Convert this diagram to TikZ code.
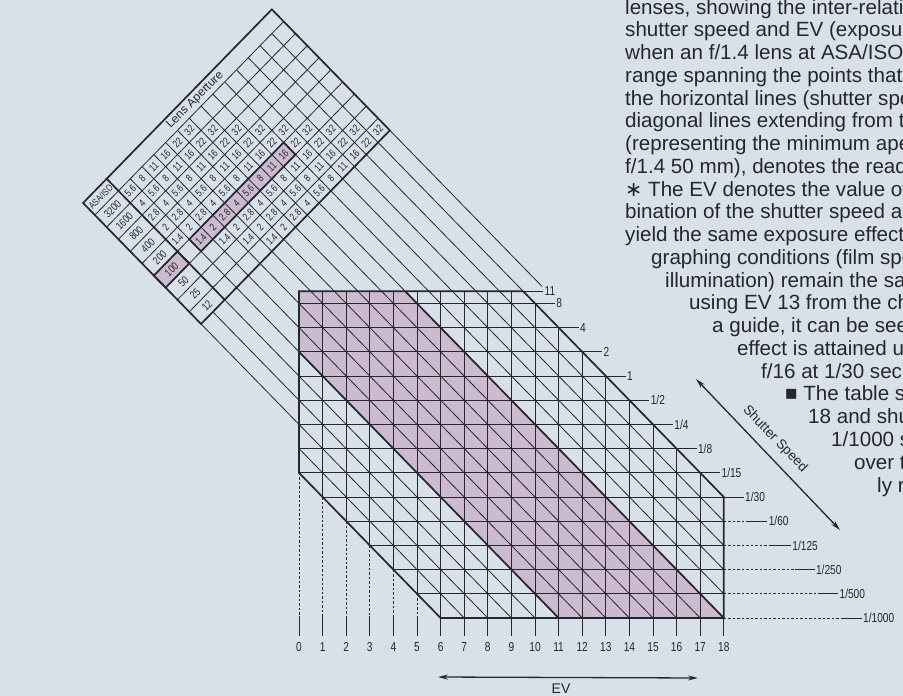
\documentclass[tikz,border=0pt]{standalone}
\usepackage{fontspec}
\setmainfont{Liberation Sans}
\newfontfamily\condfont[FakeStretch=0.78]{Liberation Sans}
\newfontfamily\dejavu{DejaVu Sans}
\usetikzlibrary{arrows.meta}
\definecolor{bg}{RGB}{216,225,234}
\definecolor{ink}{RGB}{38,38,44}
\definecolor{pinkfill}{RGB}{204,186,209}
\begin{document}
\begin{tikzpicture}[x=1pt,y=-1pt,
  gl/.style={draw=ink,line width=0.8pt},
  gthick/.style={draw=ink,line width=1.7pt},
  dashext/.style={draw=ink,line width=0.7pt,dash pattern=on 2.5pt off 2pt},
  para/.style={anchor=base west,inner sep=0pt,font=\fontsize{20.6}{22}\selectfont,text=ink},
  lab/.style={inner sep=0pt,font=\condfont\fontsize{13}{13}\selectfont,text=ink},
  cellt/.style={inner sep=0pt,font=\condfont\fontsize{10.5}{10.5}\selectfont,text=ink,rotate=45},
  asat/.style={inner sep=0pt,font=\condfont\fontsize{11}{11}\selectfont,text=ink,rotate=45},
  dblarrow/.style={draw=ink,line width=1.3pt,{Stealth[length=10pt,width=5pt]}-{Stealth[length=10pt,width=5pt]}},
]
\useasboundingbox (0,0) rectangle (903,696);
\fill[bg] (0,0) rectangle (903,696);
\clip (0,0) rectangle (903,696);

% ---------------- main EV grid ----------------
\begin{scope}[shift={(299,376)},x={(23.6pt,0pt)},y={(0pt,-24.2pt)}]
  \fill[pinkfill] (0,-3.5) -- (4.5,-3.5) -- (18,10) -- (11,10) -- (0,-1) -- cycle;
  \foreach \r in {-3,...,9}{
    \pgfmathsetmacro\L{max(0,\r-4)}
    \pgfmathsetmacro\R{min(\r+13,18)}
    \draw[gl] (\L,\r) -- (\R,\r);
  }
  \foreach \e in {1,...,17}{
    \pgfmathsetmacro\T{max(-3.5,\e-13)}
    \pgfmathsetmacro\B{min(10,\e+4)}
    \draw[gl] (\e,\T) -- (\e,\B);
  }
  \foreach \c in {-3,...,12}{
    \pgfmathsetmacro\ra{max(-1*(\c),-3.5)}
    \pgfmathsetmacro\ea{\ra+\c}
    \pgfmathsetmacro\rb{min(10,18-\c)}
    \pgfmathsetmacro\eb{\rb+\c}
    \draw[gl] (\ea,\ra) -- (\eb,\rb);
  }
  % EV extensions and labels
  \foreach \e in {6,...,18} \draw[gl] (\e,10) -- (\e,10.75);
  \foreach \e in {0,...,5}{
    \draw[dashext] (\e,\e+4) -- (\e,9.9);
    \draw[gl] (\e,9.9) -- (\e,10.75);
  }
  \foreach \e in {0,...,18} \node[lab] (ev\e) at (\e,11.2) {\e};
  % shutter speed extensions and labels
  \foreach \r/\t [count=\i] in {-3.5/11,-3/8,-2/4,-1/2,0/1,1/{1/2},2/{1/4},3/{1/8},4/{1/15},5/{1/30}}{
    \draw[gl] (\r+13,\r) -- (\r+13.85,\r);
    \node[lab,anchor=west] (ss\i) at (\r+13.9,\r) {\t};
  }
  \foreach \r/\t [count=\i from 11] in {6/{1/60},7/{1/125},8/{1/250},9/{1/500},10/{1/1000}}{
    \draw[dashext] (18,\r) -- (\r+13,\r);
    \draw[gl] (\r+13,\r) -- (\r+13.85,\r);
    \node[lab,anchor=west] (ss\i) at (\r+13.9,\r) {\t};
  }
  % outline and pink boundaries
  \draw[gthick,line join=miter] (0,-3.5) -- (9.5,-3.5) -- (18,5) -- (18,10) -- (6,10) -- (0,4) -- cycle;
  \draw[gthick] (0,-1) -- (11,10);
  \draw[gthick] (4.5,-3.5) -- (18,10);
\end{scope}

% ---------------- rotated aperture table ----------------
\def\qT{-16.3}
\def\qB{-6.3}
\begin{scope}[shift={(299,376)},x={(11.8pt,12.1pt)},y={(11.8pt,-12.1pt)}]
  % pink highlight row (ASA 100)
  \fill[pinkfill] (1,\qT+6) -- (9,\qT+6) -- (9,\qT+7) -- (1,\qT+7) -- cycle;
  \fill[pinkfill] (-2,\qT+6) -- (0,\qT+6) -- (0,\qT+7) -- (-2,\qT+7) -- cycle;
  % long aperture lines to the grid
  \foreach \c in {-2,...,13}{
    \pgfmathsetmacro\qe{max(-1*(\c),\c-7)}
    \draw[gl] (\c,\qB) -- (\c,\qe);
  }
  \draw[gl] (14,\qB) -- (14,6.6);
  % table cell lines
  \foreach \j in {1,...,9} \draw[gl] (-2,\qT+\j) -- (14,\qT+\j);
  \foreach \c in {1,...,13} \draw[gl] (\c,\qT+1) -- (\c,\qB);
  % values
  \foreach \j in {0,...,8}{
    \foreach \v [count=\k from 0] in {1.4,2,2.8,4,5.6,8,11,16,22,32}{
      \pgfmathsetmacro\cc{\k+\j-3.5}
      \ifdim \cc pt>0pt \ifdim \cc pt<14pt
        \node[cellt] at (\cc,\qT+1.5+\j) {\v};
      \fi\fi
    }
  }
  \foreach \a [count=\j from 0] in {3200,1600,800,400,200,100,50,25,12}
    \node[asat] (asa\j) at (-1,\qT+1.5+\j) {\a};
  \node[asat,font=\condfont\fontsize{9.5}{9.5}\selectfont] (asahead) at (-1,\qT+0.5) {ASA/ISO};
  \node[inner sep=0pt,rotate=45,text=ink,font=\fontsize{12}{12}\selectfont] (lenshead) at (7,\qT+0.5) {Lens Aperture};
  % thick borders
  \draw[gthick,line join=miter] (-2,\qT) -- (14,\qT) -- (14,\qB) -- (-2,\qB) -- cycle;
  \draw[gthick] (0,\qT) -- (0,\qB);
  \draw[gthick,line join=miter] (1,\qT+6) -- (9,\qT+6) -- (9,\qT+7) -- (1,\qT+7) -- cycle;
  \draw[gthick,line join=miter] (-2,\qT+6) -- (0,\qT+6) -- (0,\qT+7) -- (-2,\qT+7) -- cycle;
\end{scope}

% ---------------- arrows ----------------
\coordinate (sa) at (696,379);
\coordinate (sb) at (840,530);
\draw[dblarrow] (sa) -- (sb);
\node[inner sep=0pt,rotate=-46,font=\fontsize{13.5}{14}\selectfont,text=ink] (sslabel) at (775,439) {Shutter Speed};
\coordinate (ea) at (438,677);
\coordinate (eb) at (698,678);
\draw[dblarrow] (ea) -- (eb);
\node[inner sep=0pt,font=\fontsize{14}{14}\selectfont,text=ink] (evlabel) at (561,689) {EV};

% ---------------- side text ----------------
\node[para] (t1)  at (625,14)    {lenses, showing the inter-relation};
\node[para] (t2)  at (625,36.8)  {shutter speed and EV (exposure};
\node[para] (t3)  at (625,59.5)  {when an f/1.4 lens at ASA/ISO 100};
\node[para] (t4)  at (625,82.3)  {range spanning the points that};
\node[para] (t5)  at (625,105)   {the horizontal lines (shutter speed};
\node[para] (t6)  at (625,127.8) {diagonal lines extending from the};
\node[para] (t7)  at (625,150.6) {(representing the minimum aperture};
\node[para] (t8)  at (625,173.3) {f/1.4 50 mm), denotes the reading};
\node[para] (t9)  at (625,196.1) {{\dejavu ∗} The EV denotes the value of};
\node[para] (t10) at (625,218.8) {bination of the shutter speed and};
\node[para] (t11) at (625,241.6) {yield the same exposure effect};
\node[para] (t12) at (651,264.4) {graphing conditions (film speed};
\node[para] (t13) at (665,287.1) {illumination) remain the same};
\node[para] (t14) at (689,309.9) {using EV 13 from the chart};
\node[para] (t15) at (712,332.6) {a guide, it can be seen};
\node[para] (t16) at (737,355.4) {effect is attained using};
\node[para] (t17) at (761,378.2) {f/16 at 1/30 sec};
\node[para] (t18) at (785,400.9) {■ The table shows};
\node[para] (t19) at (808,423.7) {18 and shutter};
\node[para] (t20) at (831,446.4) {1/1000 sec};
\node[para] (t21) at (854,469.2) {over the};
\node[para] (t22) at (877,492)   {ly read};
\end{tikzpicture}
\end{document}
